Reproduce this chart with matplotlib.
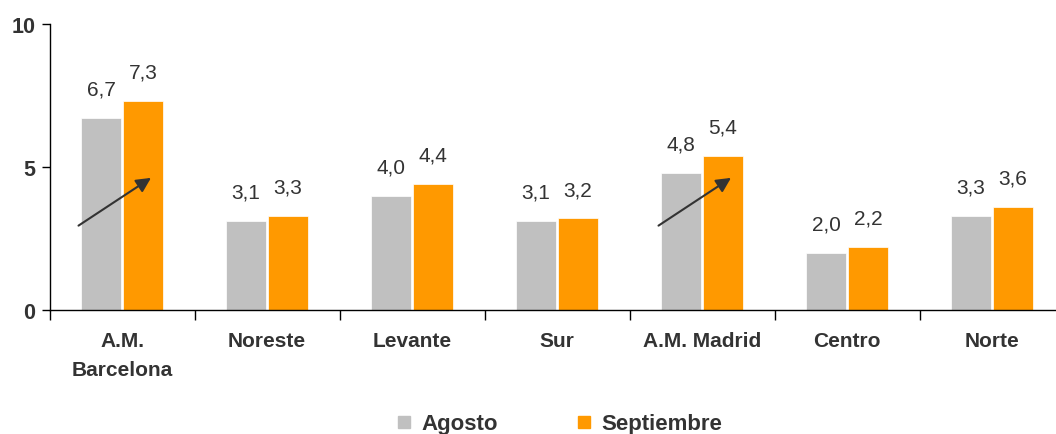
import matplotlib
matplotlib.use("Agg")
import matplotlib.pyplot as plt
from matplotlib.lines import Line2D
import numpy as np

plt.rcParams['font.family'] = ['Liberation Sans', 'DejaVu Sans']

categories = ["A.M.\nBarcelona", "Noreste", "Levante", "Sur", "A.M. Madrid", "Centro", "Norte"]
agosto = [6.7, 3.1, 4.0, 3.1, 4.8, 2.0, 3.3]
septiembre = [7.3, 3.3, 4.4, 3.2, 5.4, 2.2, 3.6]
agosto_labels = ["6,7", "3,1", "4,0", "3,1", "4,8", "2,0", "3,3"]
septiembre_labels = ["7,3", "3,3", "4,4", "3,2", "5,4", "2,2", "3,6"]
series_names = ["Agosto", "Septiembre"]
arrow_categories = [0, 4]

c_gray = "#C0C0C0"
c_orange = "#FF9900"
txt = "#333333"

fig = plt.figure(figsize=(10.56, 4.35), dpi=100)
ax = fig.add_axes([49.5/1056, 124/435, 1015/1056, 286/435])

x = np.arange(len(categories))
w = 0.276
off = 0.145
ax.bar(x - off, agosto, w, color=c_gray, edgecolor="white", linewidth=0.5)
ax.bar(x + off, septiembre, w, color=c_orange, edgecolor="white", linewidth=0.5)

for xi, v, lab in zip(x, agosto, agosto_labels):
    ax.annotate(lab, (xi - off, v), xytext=(0, 14), textcoords="offset points",
                ha="center", va="bottom", fontsize=15, color=txt)
for xi, v, lab in zip(x, septiembre, septiembre_labels):
    ax.annotate(lab, (xi + off, v), xytext=(0, 14), textcoords="offset points",
                ha="center", va="bottom", fontsize=15, color=txt)

for ci in arrow_categories:
    ax.annotate("", xy=(ci + 0.2, 4.62), xytext=(ci - 0.3, 2.95),
                arrowprops=dict(arrowstyle="-|>", color="#333333", lw=1.5,
                                mutation_scale=22, shrinkA=0, shrinkB=0))

ax.set_xlim(-0.5, len(categories) - 0.5)
ax.set_ylim(0, 10)
ax.set_yticks([0, 5, 10])
ax.set_yticklabels(["0", "5", "10"], fontsize=15.5, fontweight="bold", color=txt)
ax.set_xticks(x)
ax.set_xticklabels(categories, fontsize=15, fontweight="bold", color=txt, linespacing=1.7)
ax.set_xticks(np.arange(-0.5, len(categories), 1.0), minor=True)
ax.tick_params(axis="x", which="major", length=0, pad=15)
ax.tick_params(axis="x", which="minor", length=7, direction="out", width=1)
ax.tick_params(axis="y", length=6, width=1, direction="out", pad=4)
for lab in ax.get_xticklabels():
    lab.set_verticalalignment("top")

for s in ["top", "right"]:
    ax.spines[s].set_visible(False)
ax.spines["left"].set_linewidth(1)
ax.spines["bottom"].set_linewidth(1)

handles = [Line2D([], [], marker="s", linestyle="none", markersize=9, color=c_gray),
           Line2D([], [], marker="s", linestyle="none", markersize=9, color=c_orange)]
leg = fig.legend(handles, series_names, loc="center", bbox_to_anchor=(560/1056, 1 - 425/435),
                 ncol=2, frameon=False, handlelength=0.6, handletextpad=0.5,
                 columnspacing=3.55, prop=dict(size=16, weight="bold"))
for t in leg.get_texts():
    t.set_color(txt)

fig.savefig("out.png", dpi=100)
